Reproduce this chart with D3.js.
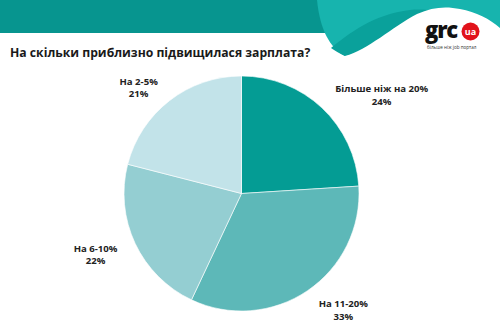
<!DOCTYPE html>
<html>
<head>
<meta charset="utf-8">
<script src="https://cdn.jsdelivr.net/npm/d3@7"></script>
<style>
  html, body { margin: 0; padding: 0; background: #fff; }
  svg { display: block; }
  text { font-family: "Open Sans", "Noto Sans", sans-serif; }
</style>
</head>
<body>
<svg id="chart" width="500" height="322"></svg>
<script>
// Survey answers, in clockwise order starting at 12 o'clock
const categories = ["Більше ніж на 20%", "На 11-20%", "На 6-10%", "На 2-5%"];
const shares = [24, 33, 22, 21];
const sliceColors = ["#049c94", "#5db8b8", "#94ced2", "#c2e3e9"];
const title = "На скільки приблизно підвищилася зарплата?";

const W = 500, H = 322;
const svg = d3.select("#chart");

// ---- header band with the wave and logo ----
const header = svg.append("g");
header.append("rect").attr("x", 0).attr("y", 0).attr("width", W).attr("height", 33).attr("fill", "#07958f");
header.append("path")
  .attr("d", "M317,0 L500,0 L500,40 L345,56 C330,48 320,30 317,0 Z")
  .attr("fill", "#17b4ae");
header.append("path")
  .attr("d", "M331,48 C348,34 374,14 410,10 C420,9 428,10 436,11 C414,15 400,28 387,37 C375,46 360,53 345,56 C339,53 335,51 331,48 Z")
  .attr("fill", "#0aa19b");
header.append("path")
  .attr("d", "M345,56 C368,50 392,27 417,14 C432,7 446,6 460,9 C476,12 490,19 500,28 L500,70 L345,70 Z")
  .attr("fill", "#ffffff");

const logo = header.append("g");
logo.append("text").attr("x", 425).attr("y", 37.5)
  .attr("font-size", 22).attr("font-weight", 800).attr("fill", "#111")
  .attr("letter-spacing", -1.2).text("grc");
logo.append("circle").attr("cx", 470.5).attr("cy", 31.5).attr("r", 9).attr("fill", "#e1131b");
logo.append("text").attr("x", 470.5).attr("y", 34.5).attr("text-anchor", "middle")
  .attr("font-size", 9).attr("font-weight", 700).attr("fill", "#fff").text("ua");
logo.append("text").attr("x", 427).attr("y", 49)
  .attr("font-size", 4.6).attr("fill", "#333").text("більше ніж job портал");

// ---- title ----
svg.append("text").attr("x", 10).attr("y", 57)
  .attr("font-size", 12.2).attr("font-weight", 700).attr("fill", "#1a1a1a")
  .text(title);

// ---- pie ----
const cx = 241.5, cy = 193.5, R = 117.5;
const data = categories.map((c, i) => ({ label: c, value: shares[i], color: sliceColors[i] }));
const pie = d3.pie().value(d => d.value).sort(null);
const arc = d3.arc().innerRadius(0).outerRadius(R);
const labelArc = d3.arc().innerRadius(158).outerRadius(158);
const arcs = pie(data);

const g = svg.append("g").attr("transform", `translate(${cx},${cy})`);
g.selectAll("path.slice").data(arcs).join("path")
  .attr("class", "slice")
  .attr("d", arc)
  .attr("fill", d => d.data.color)
  .attr("stroke", "#fff").attr("stroke-width", 0.6);

// label nudges away from the plain outer-arc position
const nudges = [[32, 14], [13, -17], [-3, -9], [-6, 16]];
const lbl = g.selectAll("text.lbl").data(arcs).join("text")
  .attr("class", "lbl")
  .attr("text-anchor", "middle")
  .attr("font-size", 9.6).attr("font-weight", 700).attr("fill", "#222")
  .attr("transform", (d, i) => {
    const [x, y] = labelArc.centroid(d);
    return `translate(${x + nudges[i][0]},${y + nudges[i][1]})`;
  });
lbl.append("tspan").attr("x", 0).attr("dy", 0).text(d => d.data.label);
lbl.append("tspan").attr("x", 0).attr("dy", 12.5).text(d => d.data.value + "%");
</script>
</body>
</html>
